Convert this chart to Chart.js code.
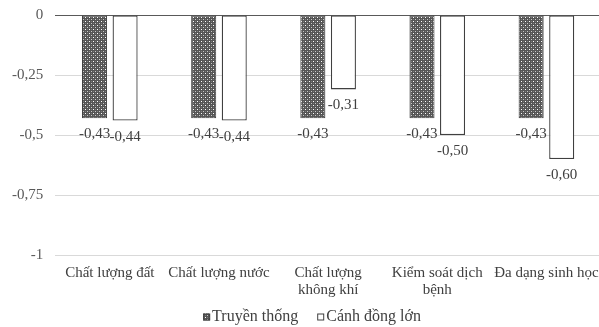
<!DOCTYPE html>
<html>
<head>
<meta charset="utf-8">
<script src="https://cdn.jsdelivr.net/npm/chart.js@4/dist/chart.umd.min.js"></script>
<style>
  html, body { margin: 0; padding: 0; background: #ffffff; overflow: hidden; }
  #wrap { width: 603px; height: 327px; position: relative; }
</style>
</head>
<body>
<div id="wrap"><canvas id="chart"></canvas></div>
<script>
// Categories (multi-line labels where the axis wraps them)
const categories = [
  'Chất lượng đất',
  'Chất lượng nước',
  ['Chất lượng', 'không khí'],
  ['Kiểm soát dịch', 'bệnh'],
  'Đa dạng sinh học'
];
const seriesNames = ['Truyền thống', 'Cánh đồng lớn'];
const traditional = [-0.43, -0.43, -0.43, -0.43, -0.43];
const largeField = [-0.44, -0.44, -0.31, -0.50, -0.60];
const tickValues = [0, -0.25, -0.5, -0.75, -1];
const tickLabels = ['0', '-0,25', '-0,5', '-0,75', '-1'];

const FONT = '"Liberation Serif", "Times New Roman", serif';
const TEXT = '#404040';

// Dotted-grid fill for the first series
function makePattern() {
  const c = document.createElement('canvas');
  c.width = 4; c.height = 4;
  const g = c.getContext('2d');
  g.fillStyle = '#555555';
  g.fillRect(0, 0, 4, 4);
  g.fillStyle = '#ffffff';
  g.fillRect(1, 1, 1, 1);
  g.fillStyle = '#c8c8c8';
  g.fillRect(3, 3, 1, 1);
  g.fillStyle = '#7a7a7a';
  g.fillRect(3, 1, 1, 1);
  g.fillRect(1, 3, 1, 1);
  return g.createPattern(c, 'repeat');
}
const dotted = makePattern();

const fmt = v => v.toFixed(2).replace('.', ',');

// Value labels under each bar end
const valueLabels = {
  id: 'valueLabels',
  afterDatasetsDraw(chart) {
    const ctx = chart.ctx;
    ctx.save();
    ctx.font = '15px ' + FONT;
    ctx.fillStyle = TEXT;
    ctx.textAlign = 'center';
    ctx.textBaseline = 'middle';
    chart.data.datasets.forEach((ds, i) => {
      chart.getDatasetMeta(i).data.forEach((bar, j) => {
        ctx.fillText(fmt(ds.data[j]), bar.x, bar.y + 16);
      });
    });
    ctx.restore();
  }
};

// Legend row at the bottom
const bottomLegend = {
  id: 'bottomLegend',
  afterDraw(chart) {
    const ctx = chart.ctx;
    ctx.save();
    ctx.font = '16px ' + FONT;
    ctx.textBaseline = 'middle';
    const box = 7, gapBox = 2, gapItem = 19;
    const fills = [dotted, '#ffffff'];
    const widths = seriesNames.map(n => ctx.measureText(n).width);
    const total = widths.reduce((a, w) => a + box + gapBox + w, 0) + gapItem;
    let x = 312 - total / 2;
    const y = 317;
    seriesNames.forEach((name, i) => {
      ctx.fillStyle = fills[i];
      ctx.fillRect(x, y - box / 2, box, box);
      ctx.strokeStyle = '#404040';
      ctx.lineWidth = 1;
      ctx.strokeRect(x + 0.5, y - box / 2 + 0.5, box - 1, box - 1);
      x += box + gapBox;
      ctx.fillStyle = TEXT;
      ctx.fillText(name, x, y);
      x += widths[i] + gapItem;
    });
    ctx.restore();
  }
};

new Chart(document.getElementById('chart'), {
  type: 'bar',
  data: {
    labels: categories,
    datasets: [
      {
        label: seriesNames[0],
        data: traditional,
        backgroundColor: dotted,
        borderColor: '#404040',
        borderWidth: 1,
        borderSkipped: false
      },
      {
        label: seriesNames[1],
        data: largeField,
        backgroundColor: '#ffffff',
        borderColor: '#404040',
        borderWidth: 1.3,
        borderSkipped: false
      }
    ]
  },
  options: {
    responsive: true,
    maintainAspectRatio: false,
    animation: false,
    devicePixelRatio: 1,
    categoryPercentage: 0.56,
    barPercentage: 0.82,
    layout: { padding: { left: 0, right: 2, top: 15, bottom: 27 } },
    plugins: {
      legend: { display: false },
      tooltip: { enabled: false },
      title: { display: false }
    },
    scales: {
      x: {
        grid: { display: false },
        border: { display: false },
        ticks: {
          color: TEXT,
          font: { family: FONT, size: 15, lineHeight: 1.1 },
          padding: 2,
          maxRotation: 0,
          autoSkip: false
        }
      },
      y: {
        min: -1,
        max: 0,
        afterBuildTicks(scale) {
          scale.ticks = tickValues.map(v => ({ value: v }));
        },
        afterFit(scale) {
          // the top label may sit on the canvas edge; the layout padding handles spacing
          scale.paddingTop = 0;
        },
        grid: {
          color: ctx => (ctx.tick && ctx.tick.value === 0 ? '#595959' : '#d9d9d9'),
          lineWidth: 1,
          drawTicks: false
        },
        border: { display: false },
        ticks: {
          color: '#595959',
          font: { family: FONT, size: 15 },
          padding: 12,
          callback: v => tickLabels[tickValues.indexOf(v)] ?? ''
        }
      }
    }
  },
  plugins: [valueLabels, bottomLegend]
});
</script>
</body>
</html>
